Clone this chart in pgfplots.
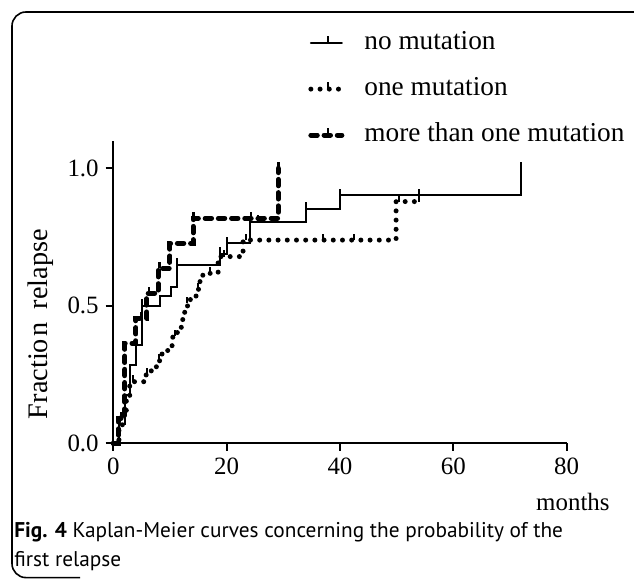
\documentclass[border=0pt]{standalone}
\usepackage{fontspec}
\setmainfont{Liberation Serif}
\newfontfamily\capfont{PT Sans}
\usepackage{pgfplots}
\pgfplotsset{compat=1.18}
\pgfdeclareplotmark{censor}{\pgfpathmoveto{\pgfpointorigin}\pgfpathlineto{\pgfpoint{0pt}{\pgfplotmarksize}}\pgfusepathqstroke}
\begin{document}
\begin{tikzpicture}
\useasboundingbox (0,0) rectangle (317bp,290bp);
\draw[line width=0.8bp, rounded corners=7bp] (317bp,284bp) -- (6bp,284bp) -- (6bp,1.2bp) -- (40bp,1.2bp);
\begin{axis}[
  at={(56.65bp,68.35bp)}, anchor=south west,
  scale only axis, width=226.7bp, height=151.25bp,
  xmin=0, xmax=80, ymin=0, ymax=1.1,
  axis x line=bottom, axis y line=left,
  axis line style={-, line width=1bp, black},
  xtick={0,20,40,60,80}, ytick={0,0.5,1},
  yticklabel style={/pgf/number format/.cd, fixed, fixed zerofill, precision=1},
  /pgf/number format/assume math mode=true,
  tick align=outside, major tick length=3.8bp,
  tick style={line width=1bp, black},
  tick label style={font=\fontsize{12.5}{15}\selectfont},
  clip=false,
  xlabel={months},
  xlabel style={at={(axis description cs:1.0955,0)}, anchor=east, yshift=-29.35bp, font=\fontsize{12.5}{15}\selectfont, inner sep=0pt},
  ylabel={Fractio\hspace{1.2pt}n\hspace{3pt} relapse},
  ylabel style={at={(axis description cs:-0.1595,0.394)}, anchor=center, font=\fontsize{14.2}{16}\selectfont, inner sep=0pt},
  legend style={draw=none, fill=none, at={(axis description cs:0.4294,0.9762)}, anchor=south west,
    inner sep=0pt, row sep=10.5bp, font=\fontsize{13.7}{15}\selectfont,
    nodes={inner sep=0pt, text height=9.5bp, text depth=3bp},
    /tikz/every odd column/.append style={column sep=10bp}},
  legend cell align=left,
  legend image code/.code={\draw[#1, line cap=round] (0.5bp,0bp) -- (16bp,0bp); \draw[solid, line width=1bp, line cap=butt] (9bp,0bp) -- (9bp,3.5bp);},
]
% no mutation
\addplot[const plot, line width=1bp, black] coordinates {
(0,0) (1.0,0.07) (2.0,0.175) (3.0,0.285) (4.0,0.357) (5.0,0.5) (8.2,0.535) (10.1,0.57) (11.2,0.65) (18.8,0.69) (20.0,0.727) (24.1,0.806) (34.0,0.853) (40.0,0.903) (72.0,1.0)};
\addlegendentry{no mutation}
\addplot[only marks, mark=censor, mark size=3.2bp, line width=1bp, black, forget plot] coordinates {
(5,0.5) (11.2,0.65) (18.8,0.69) (20,0.727) (25.5,0.806) (34,0.853) (40,0.903) (54,0.903) (72,1.0)};
% one mutation
\addplot[const plot, line width=2.5bp, black, dash pattern=on 0bp off 4.6bp, line cap=round] coordinates {
(0,0) (1,0.05) (1.6,0.11) (2.3,0.17) (2.9,0.224) (5.8,0.25) (6.7,0.275) (7.6,0.30) (8.6,0.33) (9.6,0.355) (10.5,0.39) (11.3,0.42) (12,0.45) (12.6,0.48) (13.1,0.51) (13.6,0.535) (14.6,0.56) (15.3,0.59) (15.8,0.618) (18.5,0.679) (22.9,0.739) (49.9,0.879) (54,0.879)};
\addlegendentry{one mutation}
\addplot[only marks, mark=censor, mark size=3.2bp, line width=1bp, black, forget plot] coordinates {
(3.5,0.224) (6.0,0.25) (8,0.30) (10.9,0.39) (13,0.51) (15,0.56) (17,0.618) (19.5,0.679) (23.5,0.739) (37,0.739) (42.5,0.739) (50.5,0.879) (54,0.879)};
% more than one mutation
\addplot[const plot, line width=2.5bp, black, dash pattern=on 3.2bp off 3.4bp, line cap=round] coordinates {
(0,0) (0.9,0.091) (2.05,0.364) (4.0,0.455) (5.9,0.545) (7.9,0.636) (10,0.727) (14.1,0.818) (29.1,1.0)};
\addlegendentry{more than one mutation}
\addplot[only marks, mark=censor, mark size=3.2bp, line width=1.4bp, black, forget plot] coordinates {
(1.5,0.091) (5,0.455) (6.3,0.545) (8.2,0.636) (14.1,0.818) (24.3,0.818) (29.1,1.0)};
\end{axis}
\node[anchor=base west, inner sep=0pt, font=\capfont\fontsize{10.7}{12}\selectfont] at (7bp,21.5bp) {\textbf{Fig. 4} Kaplan-Meier curves concerning the probability of the};
\node[anchor=base west, inner sep=0pt, font=\capfont\fontsize{10.7}{12}\selectfont] at (7bp,7bp) {first relapse};
\end{tikzpicture}
\end{document}
